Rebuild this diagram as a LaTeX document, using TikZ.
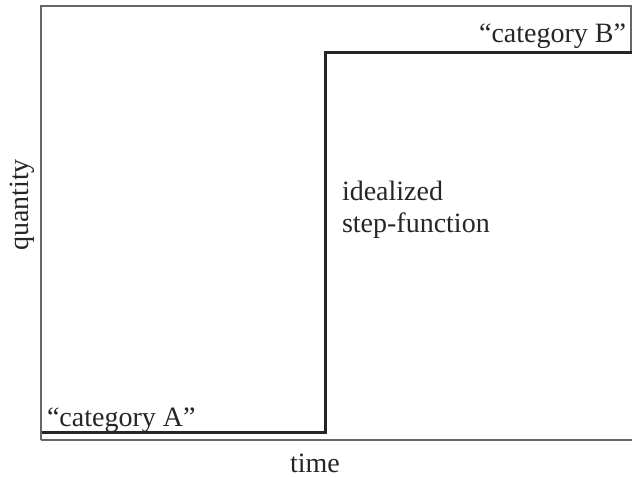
\documentclass[tikz,border=0pt]{standalone}
\usepackage{fontspec}
\setmainfont{Liberation Serif}
\begin{document}
\begin{tikzpicture}[x=0.5pt,y=-0.5pt,
  frame/.style={draw=black!60,line width=0.8pt},
  stepline/.style={draw=black!85,line width=1.5pt,line join=miter},
  lbl/.style={inner sep=0pt,outer sep=0pt,font=\fontsize{14}{16}\selectfont,text=black!85}]
\useasboundingbox (0,0) rectangle (632,477);
% frame
\coordinate (tl) at (41,6);
\coordinate (tr) at (631,6);
\coordinate (rs) at (631,52);
\coordinate (bl) at (41,440);
\coordinate (br) at (632,440);
\draw[frame] (bl) -- (tl) -- (tr) -- (rs);
\draw[frame] (bl) -- (br);
% step function
\coordinate (s0) at (42,432);
\coordinate (s1) at (325,432);
\coordinate (s2) at (325,52);
\coordinate (s3) at (632,52);
\draw[stepline] (s0) -- (s1) -- (s2) -- (s3);
% labels
\node[lbl,anchor=base west] (catA) at (47,426) {“category A”};
\node[lbl,anchor=base east] (catB) at (626,42) {“category B”};
\node[lbl,anchor=base west,align=left] (ideal) at (342,232) {idealized\\[0pt]step-function};
\node[lbl,anchor=base] (time) at (315,472) {time};
\node[lbl,anchor=base,rotate=90] (quantity) at (28,205) {quantity};
\end{tikzpicture}
\end{document}
